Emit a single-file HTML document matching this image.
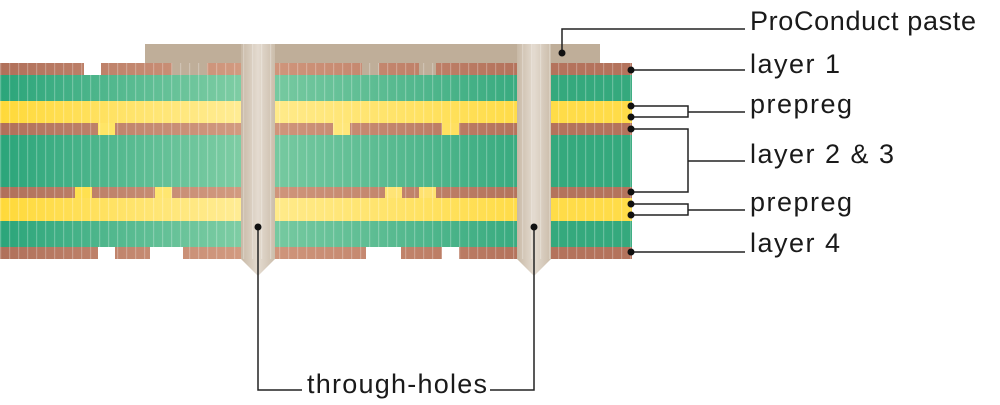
<!DOCTYPE html>
<html><head><meta charset="utf-8"><style>
html,body{margin:0;padding:0;background:#fff;width:1000px;height:405px;overflow:hidden}
svg{display:block}
text{font-family:"Liberation Sans",sans-serif;font-size:27px;fill:#1a1a1a}
.s{letter-spacing:1.5px}
</style></head><body>
<svg width="1000" height="405" viewBox="0 0 1000 405" xmlns="http://www.w3.org/2000/svg">
<defs>
<linearGradient id="gL" x1="0" x2="1"><stop offset="0" stop-color="#2ba57a"/><stop offset="1" stop-color="#7ecda4"/></linearGradient>
<linearGradient id="gM" x1="0" x2="1"><stop offset="0" stop-color="#76c9a0"/><stop offset="1" stop-color="#39ab80"/></linearGradient>
<linearGradient id="yL" x1="0" x2="1"><stop offset="0" stop-color="#ffd939"/><stop offset="1" stop-color="#ffec94"/></linearGradient>
<linearGradient id="yM" x1="0" x2="1"><stop offset="0" stop-color="#ffea8a"/><stop offset="1" stop-color="#ffdc48"/></linearGradient>
<linearGradient id="cL" x1="0" x2="1"><stop offset="0" stop-color="#b0705a"/><stop offset="1" stop-color="#d29a80"/></linearGradient>
<linearGradient id="cM" x1="0" x2="1"><stop offset="0" stop-color="#cf957b"/><stop offset="1" stop-color="#b4735c"/></linearGradient>
<linearGradient id="via" x1="0" x2="1"><stop offset="0" stop-color="#c8b9a6"/><stop offset="0.5" stop-color="#e4dbd0"/><stop offset="1" stop-color="#cbbdab"/></linearGradient>
<pattern id="str" width="9" height="10" patternUnits="userSpaceOnUse"><rect x="0" y="0" width="1.2" height="10" fill="#fff" opacity="0.25"/></pattern>
</defs>
<rect x="145" y="44" width="455" height="20" fill="#bfae99"/>
<g>
<rect x="0" y="75" width="241" height="26" fill="url(#gL)"/><rect x="275" y="75" width="242" height="26" fill="url(#gM)"/><rect x="551" y="75" width="81" height="26" fill="#35a97d"/>
<rect x="0" y="101" width="241" height="22" fill="url(#yL)"/><rect x="275" y="101" width="242" height="22" fill="url(#yM)"/><rect x="551" y="101" width="81" height="22" fill="#ffdc48"/>
<rect x="0" y="135" width="241" height="52" fill="url(#gL)"/><rect x="275" y="135" width="242" height="52" fill="url(#gM)"/><rect x="551" y="135" width="81" height="52" fill="#35a97d"/>
<rect x="0" y="198" width="241" height="23" fill="url(#yL)"/><rect x="275" y="198" width="242" height="23" fill="url(#yM)"/><rect x="551" y="198" width="81" height="23" fill="#ffdc48"/>
<rect x="0" y="221" width="241" height="26" fill="url(#gL)"/><rect x="275" y="221" width="242" height="26" fill="url(#gM)"/><rect x="551" y="221" width="81" height="26" fill="#35a97d"/>
<rect x="0" y="63" width="241" height="12" fill="url(#cL)"/><rect x="275" y="63" width="242" height="12" fill="url(#cM)"/><rect x="551" y="63" width="81" height="12" fill="#b4735c"/>
<rect x="0" y="123" width="241" height="12" fill="url(#cL)"/><rect x="275" y="123" width="242" height="12" fill="url(#cM)"/><rect x="551" y="123" width="81" height="12" fill="#b4735c"/>
<rect x="0" y="187" width="241" height="11" fill="url(#cL)"/><rect x="275" y="187" width="242" height="11" fill="url(#cM)"/><rect x="551" y="187" width="81" height="11" fill="#b4735c"/>
<rect x="0" y="247" width="241" height="12" fill="url(#cL)"/><rect x="275" y="247" width="242" height="12" fill="url(#cM)"/><rect x="551" y="247" width="81" height="12" fill="#b4735c"/>
<rect x="84" y="63" width="17" height="12" fill="#fff"/>
<rect x="172" y="63" width="35" height="12" fill="#bfae99"/>
<rect x="362" y="63" width="17" height="12" fill="#bfae99"/>
<rect x="419" y="63" width="17" height="12" fill="#bfae99"/>
<rect x="98" y="123" width="17" height="12" fill="#ffe566"/>
<rect x="333" y="123" width="17" height="12" fill="#ffe77a"/>
<rect x="442" y="123" width="17" height="12" fill="#ffe060"/>
<rect x="75" y="187" width="17" height="11" fill="#ffe050"/>
<rect x="155" y="187" width="17" height="11" fill="#ffe670"/>
<rect x="385" y="187" width="17" height="11" fill="#ffe475"/>
<rect x="419" y="187" width="17" height="11" fill="#ffe270"/>
<rect x="98" y="247" width="17" height="12" fill="#fff"/>
<rect x="150" y="247" width="33" height="12" fill="#fff"/>
<rect x="366" y="247" width="35" height="12" fill="#fff"/>
<rect x="442" y="247" width="17" height="12" fill="#fff"/>
<rect x="0" y="63" width="632" height="196" fill="url(#str)"/>
</g>
<polygon points="241,44 275,44 275,259 258,276 241,259" fill="url(#via)"/>
<polygon points="517,44 551,44 551,259 534,276 517,259" fill="url(#via)"/>
<rect x="241" y="44" width="34" height="215" fill="url(#str)"/>
<rect x="517" y="44" width="34" height="215" fill="url(#str)"/>
<g stroke="#222" stroke-width="1.5" fill="none">
<polyline points="562,53 562,29 745,29"/>
<line x1="631" y1="70" x2="745" y2="70"/>
<polyline points="631,106 688,106 688,117 631,117"/>
<line x1="688" y1="112" x2="745" y2="112"/>
<polyline points="631,129 688,129 688,192 631,192"/>
<line x1="688" y1="161" x2="745" y2="161"/>
<polyline points="631,204 688,204 688,215 631,215"/>
<line x1="688" y1="210" x2="745" y2="210"/>
<line x1="631" y1="252" x2="745" y2="252"/>
<polyline points="258,227 258,390 302,390"/>
<polyline points="490,390 534,390 534,227"/>
</g>
<g fill="#111">
<circle cx="562" cy="53" r="3.5"/><circle cx="631" cy="70" r="3.5"/><circle cx="631" cy="106" r="3.5"/><circle cx="631" cy="117" r="3.5"/>
<circle cx="631" cy="129" r="3.5"/><circle cx="631" cy="192" r="3.5"/><circle cx="631" cy="204" r="3.5"/><circle cx="631" cy="215" r="3.5"/>
<circle cx="631" cy="252" r="3.5"/><circle cx="258" cy="227" r="3.5"/><circle cx="534" cy="227" r="3.5"/>
</g>
<text x="750" y="30" textLength="226">ProConduct paste</text>
<text class="s" x="750" y="73">layer 1</text>
<text class="s" x="750" y="113">prepreg</text>
<text class="s" x="750" y="163">layer 2 &amp; 3</text>
<text class="s" x="750" y="211">prepreg</text>
<text class="s" x="750" y="252">layer 4</text>
<text x="307" y="393" textLength="180">through-holes</text>
</svg>
</body></html>
